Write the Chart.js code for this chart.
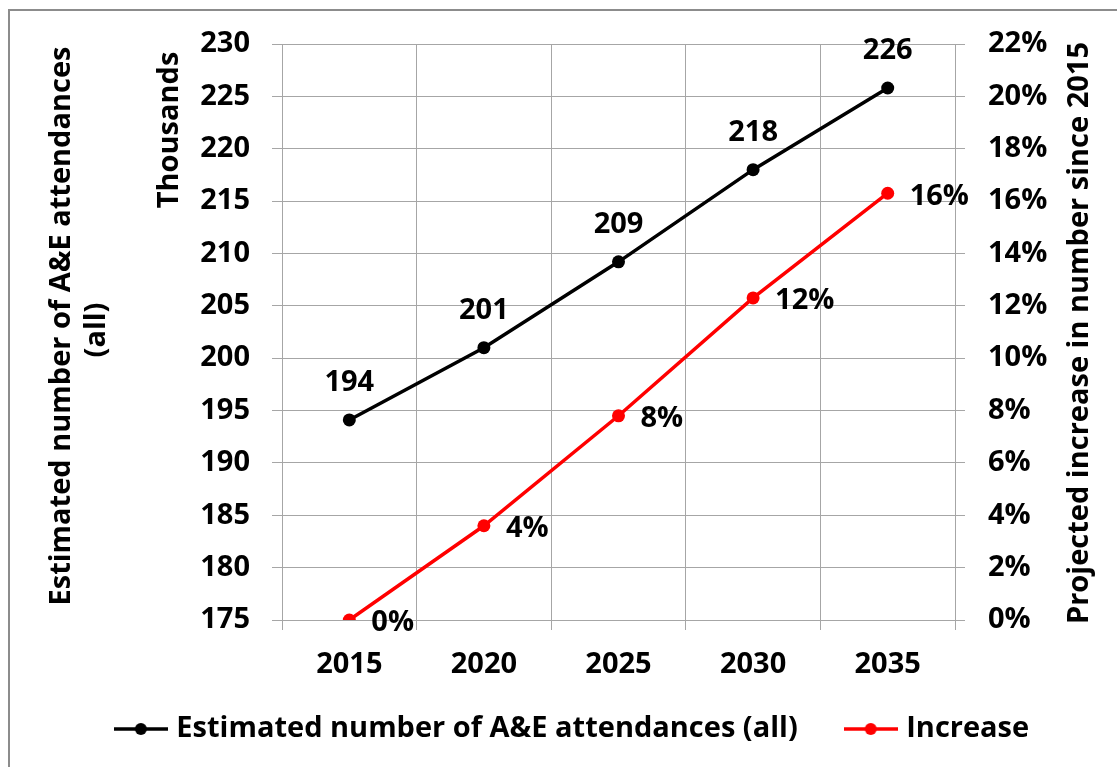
<!DOCTYPE html>
<html><head><meta charset="utf-8">
<script src="https://cdn.jsdelivr.net/npm/chart.js@4"></script>
<style>html,body{margin:0;padding:0;background:#fff}</style>
</head><body>
<canvas id="c" width="1117" height="767"></canvas>
<script>
const categories = ['2015','2020','2025','2030','2035'];
const attendances = [194.1, 201.0, 209.2, 218.0, 225.8];
const increase = [0, 3.6, 7.8, 12.3, 16.3];
const attendanceLabels = ['194','201','209','218','226'];
const increaseLabels = ['0%','4%','8%','12%','16%'];
const seriesNames = ['Estimated number of A&E attendances (all)', 'Increase'];
const leftTitle = ['Estimated number of A&E attendances', '(all)'];
const unitTitle = 'Thousands';
const rightTitle = 'Projected increase in number since 2015';

const FF = '"Open Sans", sans-serif';
const FS = 29;
const GRID = '#a6a6a6';

function mkIcon(color){
  const c = document.createElement('canvas'); c.width = 54; c.height = 14;
  const x = c.getContext('2d');
  x.strokeStyle = color; x.lineWidth = 3.5;
  x.beginPath(); x.moveTo(0,7); x.lineTo(54,7); x.stroke();
  x.fillStyle = color; x.beginPath(); x.arc(27,7,6,0,Math.PI*2); x.fill();
  return c;
}
const icons = [mkIcon('#000000'), mkIcon('#ff0000')];

const extras = {
  id: 'extras',
  beforeDraw(chart){
    if (chart.scales.x) chart.scales.x._computeLabelArea = () => undefined;
  },
  afterDraw(chart){
    const ctx = chart.ctx;
    ctx.save();
    ctx.fillStyle = '#8c8c8c';
    ctx.fillRect(8, 9, 1109, 2);
    ctx.fillRect(8, 9, 2, 758);
    ctx.fillStyle = '#000';
    ctx.font = 'bold ' + FS + 'px ' + FF;
    ctx.textAlign = 'center'; ctx.textBaseline = 'middle';
    const drawRot = (t, x, y) => { ctx.save(); ctx.translate(x, y); ctx.rotate(-Math.PI/2); ctx.fillText(t, 0, 0); ctx.restore(); };
    drawRot(leftTitle[0], 62, 326);
    drawRot(leftTitle[1], 97, 330);
    drawRot(unitTitle, 170, 130);
    drawRot(rightTitle, 1080, 333);
    const m0 = chart.getDatasetMeta(0), m1 = chart.getDatasetMeta(1);
    m0.data.forEach((p, i) => { ctx.textAlign = 'center'; ctx.fillText(attendanceLabels[i], p.x, p.y - 37); });
    m1.data.forEach((p, i) => { ctx.textAlign = 'left'; ctx.fillText(increaseLabels[i], p.x + 22, p.y + 3); });
    ctx.restore();
  }
};

new Chart(document.getElementById('c'), {
  type: 'line',
  data: {
    labels: categories,
    datasets: [
      { label: seriesNames[0], data: attendances, yAxisID: 'y', borderColor: '#000', backgroundColor: '#000',
        borderWidth: 3.5, pointRadius: 6.5, pointBackgroundColor: '#000', pointBorderWidth: 0, tension: 0 },
      { label: seriesNames[1], data: increase, yAxisID: 'y1', borderColor: '#ff0000', backgroundColor: '#ff0000',
        borderWidth: 3.5, pointRadius: 6.5, pointBackgroundColor: '#ff0000', pointBorderWidth: 0, tension: 0 }
    ]
  },
  options: {
    responsive: false, animation: false, devicePixelRatio: 1,
    layout: { padding: { left: 32, right: 0, top: 44, bottom: 13.5 } },
    plugins: {
      tooltip: { enabled: false },
      legend: {
        position: 'bottom',
        labels: {
          color: '#000', font: { family: FF, size: FS, weight: 'bold' }, padding: 52,
          usePointStyle: true, pointStyleWidth: 42, boxHeight: 14,
          generateLabels(chart){
            return chart.data.datasets.map((d, i) => ({
              text: d.label, datasetIndex: i, pointStyle: icons[i], fillStyle: d.borderColor,
              strokeStyle: d.borderColor, lineWidth: 0, hidden: false, fontColor: '#000'
            }));
          }
        }
      }
    },
    scales: {
      x: {
        offset: true,
        grid: { color: GRID, offset: true, tickLength: 10, tickColor: GRID },
        border: { color: GRID },
        ticks: { color: '#000', font: { family: FF, size: FS, weight: 'bold' }, padding: 17.6, maxRotation: 0 },
        afterFit(s){ s.height = 42.5; }
      },
      y: {
        position: 'left', min: 175, max: 230,
        ticks: { stepSize: 5, color: '#000', font: { family: FF, size: FS, weight: 'bold' }, padding: 22 },
        grid: { color: GRID, tickLength: 10, tickColor: GRID },
        border: { color: GRID },
        afterFit(s){ s.width = 250; }
      },
      y1: {
        position: 'right', min: 0, max: 22,
        ticks: { stepSize: 2, color: '#000', font: { family: FF, size: FS, weight: 'bold' }, padding: 23,
          callback: v => v + '%' },
        grid: { drawOnChartArea: false, color: GRID, tickLength: 10, tickColor: GRID },
        border: { color: GRID },
        afterFit(s){ s.width = 162; }
      }
    }
  },
  plugins: [extras]
});
</script>
</body></html>
